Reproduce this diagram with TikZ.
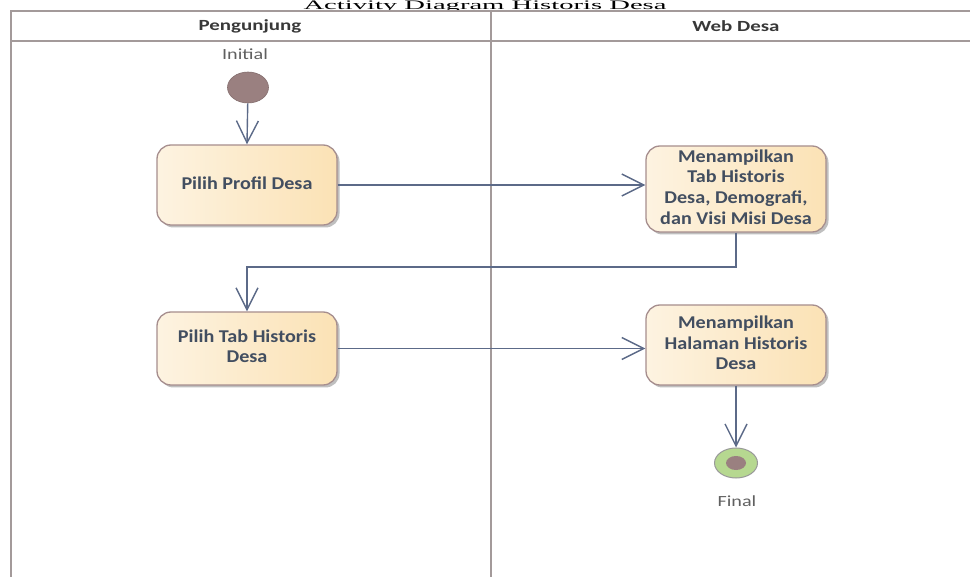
\documentclass[tikz,border=0pt]{standalone}
\usepackage{fontspec}
\usepackage{graphicx}
\setmainfont{Carlito}
\newfontfamily\titlefont{Liberation Serif}
\usetikzlibrary{arrows.meta,shadows,shapes.geometric}
\newcommand\sx[1]{\scalebox{1.3}[1]{#1}}
\newcommand\bx[1]{\scalebox{1.12}[1]{#1}}
\definecolor{frameC}{HTML}{A39A9A}
\definecolor{boxL}{HTML}{FDF3E1}
\definecolor{boxR}{HTML}{FBE2B5}
\definecolor{boxB}{HTML}{A68E8E}
\definecolor{txtC}{HTML}{424E60}
\definecolor{lineC}{HTML}{5C6A88}
\definecolor{initC}{HTML}{9A8080}
\definecolor{finC}{HTML}{B6D890}
\definecolor{lblC}{HTML}{606060}
\definecolor{hdrC}{HTML}{383838}
\begin{document}
\begin{tikzpicture}[x=1pt,y=-1pt,
  frame/.style={draw=frameC, line width=2.5pt},
  actbox/.style={draw=boxB, line width=1.3pt, rounded corners=14pt,
    left color=boxL, right color=boxR, minimum width=180pt,
    text=txtC, font=\bfseries\fontsize{18}{20.7}\selectfont, inner sep=0pt,
    drop shadow={shadow xshift=2.5pt, shadow yshift=-2.5pt, opacity=0.25, fill=black}},
  flow/.style={draw=lineC, line width=1.4pt, -{Straight Barb[length=22pt,width=22pt,line width=1.4pt]}},
  hdr/.style={text=hdrC, font=\bfseries\fontsize{15.5}{18}\selectfont},
  lbl/.style={text=lblC, font=\fontsize{15.5}{18}\selectfont}]
\useasboundingbox (0,0) rectangle (970,577);
% title
\node[anchor=base, font=\titlefont\fontsize{13}{15}\selectfont] (title) at (485,9.3) {\scalebox{2.2}[1]{Activity Diagram Historis Desa}};
% swimlane frame
\draw[frame] (11,590) -- (11,11) -- (985,11);
\draw[frame] (11,41) -- (985,41);
\draw[frame] (491,11) -- (491,590);
\node[hdr] (lane1) at (250,26) {\scalebox{1.35}[1]{Pengunjung}};
\node[hdr] (lane2) at (736,26) {\scalebox{1.35}[1]{Web Desa}};
% initial
\node[lbl] (initlbl) at (245,54) {\sx{Initial}};
\node[ellipse, draw=initC!85!black, line width=0.6pt, fill=initC, minimum width=41pt, minimum height=31pt, inner sep=0pt] (init) at (248,87.5) {};
% activities
\node[actbox, minimum height=80pt] (b1) at (247,185) {\bx{\begin{tabular}{@{}c@{}}Pilih Profil Desa\end{tabular}}};
\node[actbox, minimum height=86pt] (b2) at (736,189) {\bx{\begin{tabular}{@{}c@{}}Menampilkan\\Tab Historis\\Desa, Demografi,\\dan Visi Misi Desa\end{tabular}}};
\node[actbox, minimum height=73pt] (b3) at (247,348.5) {\bx{\begin{tabular}{@{}c@{}}Pilih Tab Historis\\Desa\end{tabular}}};
\node[actbox, minimum height=80pt] (b4) at (736,345) {\bx{\begin{tabular}{@{}c@{}}Menampilkan\\Halaman Historis\\Desa\end{tabular}}};
% final
\node[ellipse, draw=gray!80, line width=1pt, fill=finC, minimum width=43pt, minimum height=30pt, inner sep=0pt] (fin) at (736,463) {};
\node[ellipse, fill=initC, minimum width=20pt, minimum height=14pt, inner sep=0pt] (finin) at (fin.center) {};
\node[lbl] (finlbl) at (737,501) {\sx{Final}};
% connectors
\draw[flow] (init) -- (b1.north);
\draw[flow] (b1.east) -- (b1.east -| b2.west);
\coordinate (c1) at (736,267);
\coordinate (c2) at (247,267);
\draw[flow] (b2.south) -- (c1) -- (c2) -- (b3.north);
\draw[flow] (b3.east) -- (b3.east -| b4.west);
\draw[flow] (b4.south) -- (fin.north);
\end{tikzpicture}
\end{document}
